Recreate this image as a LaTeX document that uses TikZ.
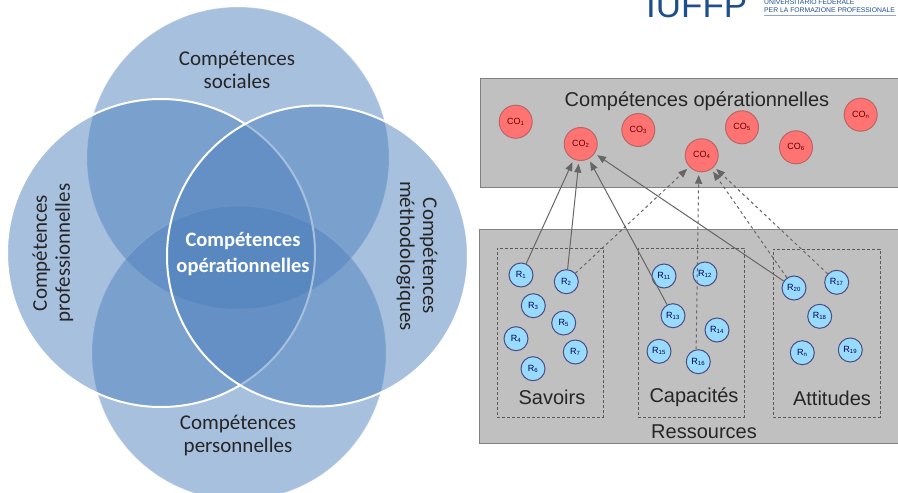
\documentclass[tikz,border=0pt]{standalone}
\usepackage{fontspec}
\setmainfont{Liberation Sans}
\newfontfamily\vennfont{Carlito}
\usetikzlibrary{arrows}
\definecolor{vennBlue}{HTML}{4F81BD}
\definecolor{panelGray}{HTML}{C0C0C0}
\definecolor{logoBlue}{HTML}{1F4E8C}
\tikzstyle{vennFaint} = [circle, inner sep=0pt, fill=vennBlue, fill opacity=0.5, draw=white, draw opacity=0.25, line width=1pt]
\tikzstyle{vennRing} = [circle, inner sep=0pt, fill=vennBlue, fill opacity=0.5, draw=white, draw opacity=1, line width=2pt]
\tikzstyle{vennText} = [font=\vennfont\fontsize{21}{23}\selectfont, align=center, text=black!85]
\tikzstyle{vennCore} = [font=\vennfont\bfseries\fontsize{20.5}{26}\selectfont, align=center, text=white]
\tikzstyle{panel} = [draw=black!50, fill=panelGray, line width=0.8pt, inner sep=0pt, anchor=north west]
\tikzstyle{groupBox} = [draw=black!65, densely dashed, line width=0.7pt, inner sep=0pt, anchor=north west]
\tikzstyle{panelText} = [font=\fontsize{20}{22}\selectfont, text=black!85]
\tikzstyle{coNode} = [circle, draw=black!45!red!60, fill=red!55!white, line width=1pt, minimum size=33pt, inner sep=0pt, font=\fontsize{9}{10}\selectfont, text=black!60!red]
\tikzstyle{resNode} = [circle, draw=blue!30!black!70, fill=blue!35!cyan!40!white, line width=1pt, minimum size=24pt, inner sep=0pt, font=\fontsize{9}{10}\selectfont, text=blue!30!black]
\tikzstyle{solidArrow} = [-triangle 45, black!60, line width=1pt, shorten >=3pt]
\tikzstyle{dashArrow} = [-triangle 45, black!60, dashed, line width=1pt, shorten >=3pt]
\begin{document}
\begin{tikzpicture}[x=1pt,y=-1pt]
	\useasboundingbox (0,0) rectangle (898,493);
	% venn circles
	\begin{scope}
		\clip (0,0) rectangle (470,493);
		\node[vennFaint,minimum size=302pt] (top) at (238,158) {};
		\node[vennFaint,minimum size=294pt] (bottom) at (239,353) {};
		\node[vennRing,minimum size=308pt] (left) at (161,253) {};
		\node[vennRing,minimum size=301pt] (right) at (317.5,256) {};
	\end{scope}
	\node[vennText] (social) at (237,70) {Compétences\\sociales};
	\node[vennText] (perso) at (238,436) {Compétences\\personnelles};
	\node[vennText,rotate=90] (pro) at (53,253) {Compétences\\professionnelles};
	\node[vennText,rotate=-90] (metho) at (417,256) {Compétences\\méthodologiques};
	\node[vennCore] (core) at (243,254) {Compétences\\opérationnelles};

	% logo
	\node[font=\fontsize{35}{36}\selectfont, text=logoBlue, anchor=base west, inner sep=0pt] (logo) at (646,17) {IUFFP};
	\node[font=\fontsize{6.8}{7}\selectfont, text=logoBlue, anchor=base west, inner sep=0pt] (logoA) at (764,4) {UNIVERSITARIO FEDERALE};
	\node[font=\fontsize{6.8}{7}\selectfont, text=logoBlue, anchor=base west, inner sep=0pt] (logoB) at (764,12) {PER LA FORMAZIONE PROFESSIONALE};
	\coordinate (ruleA) at (764,15);
	\coordinate (ruleB) at (896,15);
	\draw[logoBlue!50, line width=0.7pt] (ruleA) -- (ruleB);

	% panels
	\node[panel,minimum width=420pt,minimum height=109pt] (opPanel) at (480,78) {};
	\node[panel,minimum width=421pt,minimum height=214pt] (resPanel) at (479,229) {};
	\node[groupBox,minimum width=106pt,minimum height=169pt] (savBox) at (497,248) {};
	\node[groupBox,minimum width=106pt,minimum height=169pt] (capBox) at (638,248) {};
	\node[groupBox,minimum width=107pt,minimum height=168pt] (attBox) at (773,249) {};
	\node[panelText] (opTitle) at (697,101) {Compétences opérationnelles};
	\node[panelText] (savTitle) at (552,397) {Savoirs};
	\node[panelText] (capTitle) at (694,397) {Capacités};
	\node[panelText] (attTitle) at (832,398) {Attitudes};
	\node[panelText] (resTitle) at (704,432) {Ressources};

	% operational competences
	\node[coNode] (co1) at (515.7,121.7) {CO\textsubscript{1}};
	\node[coNode] (co2) at (580.7,144) {CO\textsubscript{2}};
	\node[coNode] (co3) at (638.3,130) {CO\textsubscript{3}};
	\node[coNode] (co4) at (701.7,155.3) {CO\textsubscript{4}};
	\node[coNode] (co5) at (742,127.3) {CO\textsubscript{5}};
	\node[coNode] (co6) at (796,147.3) {CO\textsubscript{6}};
	\node[coNode] (con) at (860.7,114.7) {CO\textsubscript{n}};

	% resources
	\node[resNode] (r1) at (521,275) {R\textsubscript{1}};
	\node[resNode] (r2) at (566.3,281.7) {R\textsubscript{2}};
	\node[resNode] (r3) at (533.3,305.7) {R\textsubscript{3}};
	\node[resNode] (r4) at (516,338.7) {R\textsubscript{4}};
	\node[resNode] (r5) at (563.7,323) {R\textsubscript{5}};
	\node[resNode] (r6) at (533,368.7) {R\textsubscript{6}};
	\node[resNode] (r7) at (575.3,352) {R\textsubscript{7}};
	\node[resNode] (r11) at (664,276) {R\textsubscript{11}};
	\node[resNode] (r12) at (705,274) {R\textsubscript{12}};
	\node[resNode] (r13) at (673,315.7) {R\textsubscript{13}};
	\node[resNode] (r14) at (717,330) {R\textsubscript{14}};
	\node[resNode] (r15) at (659,351.3) {R\textsubscript{15}};
	\node[resNode] (r16) at (698.3,361.7) {R\textsubscript{16}};
	\node[resNode] (r20) at (794,288) {R\textsubscript{20}};
	\node[resNode] (r17) at (836.7,282.3) {R\textsubscript{17}};
	\node[resNode] (r18) at (819.7,316.3) {R\textsubscript{18}};
	\node[resNode] (rn) at (802.3,352.7) {R\textsubscript{n}};
	\node[resNode] (r19) at (850.3,350) {R\textsubscript{19}};

	% arrows
	\draw[solidArrow] (r1) to (co2);
	\draw[solidArrow] (r2) to (co2);
	\draw[solidArrow] (r13) to (co2);
	\draw[solidArrow] (r20) to (co2);
	\draw[dashArrow] (r2) to (co4);
	\draw[dashArrow] (r16.100) to (co4.-100);
	\draw[dashArrow] (r20) to (co4);
	\draw[dashArrow] (r17) to (co4);
\end{tikzpicture}
\end{document}
